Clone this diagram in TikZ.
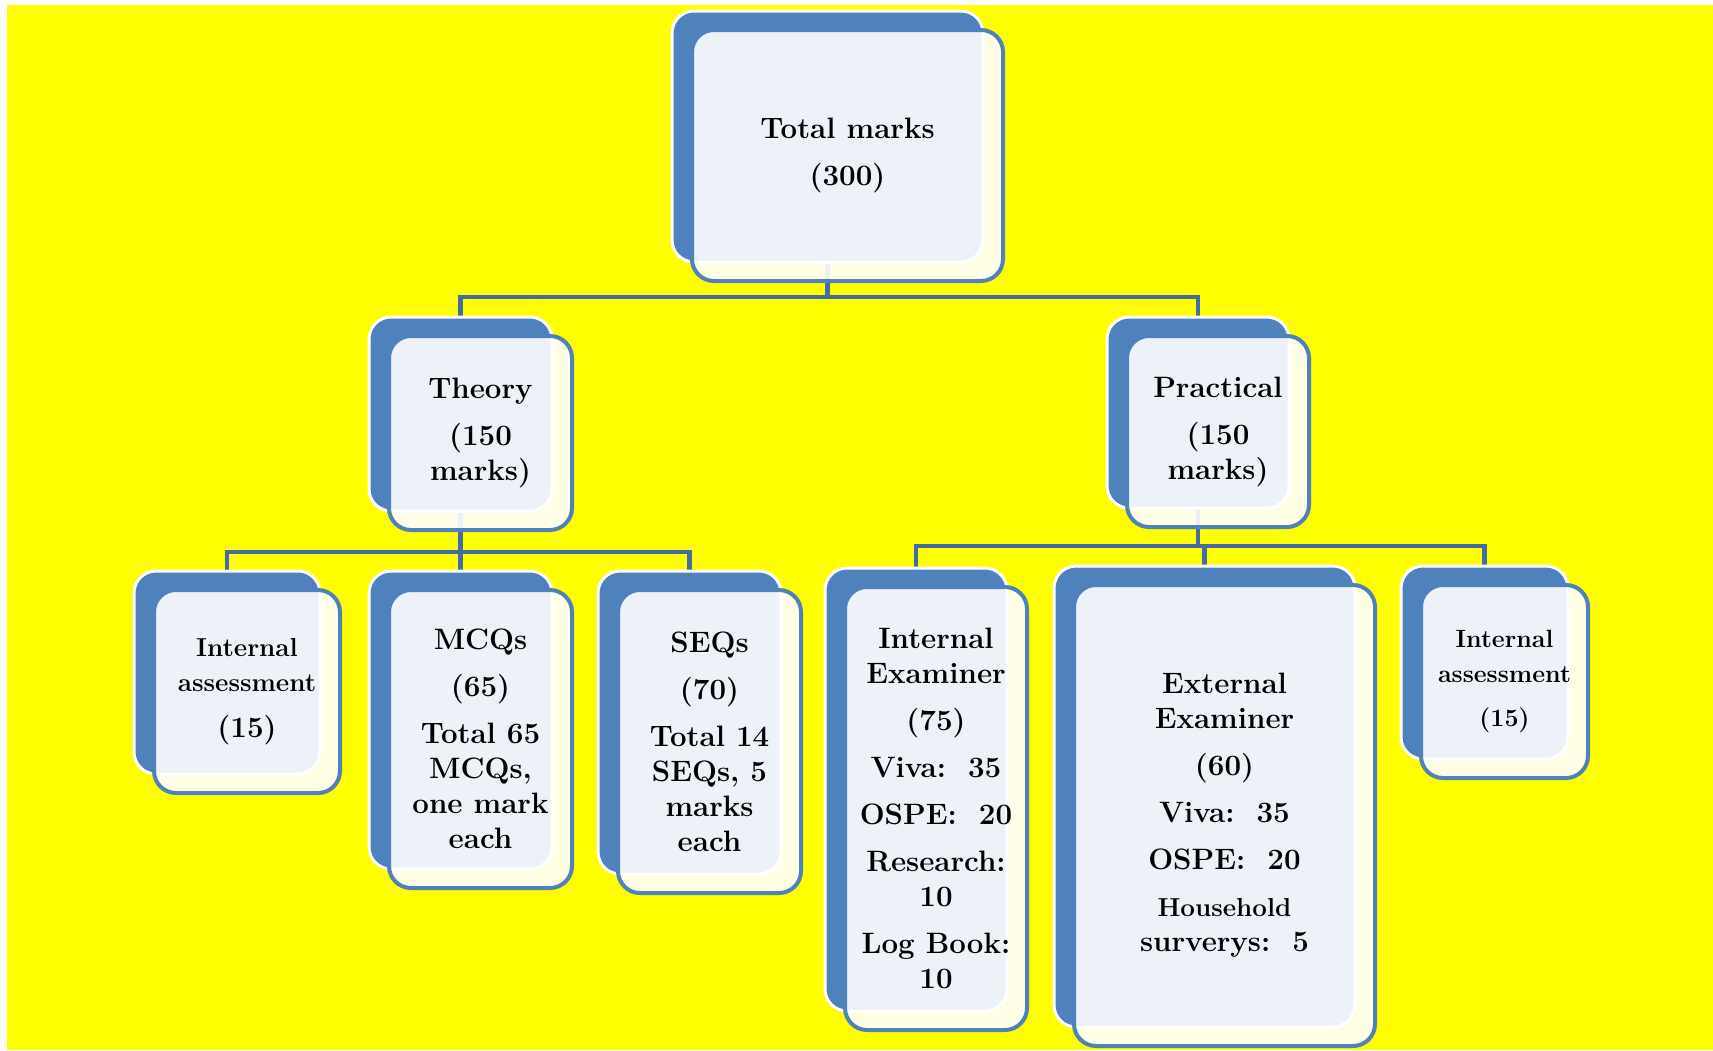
\documentclass[tikz,border=0pt]{standalone}
\usetikzlibrary{backgrounds}

\definecolor{boxblue}{HTML}{4F81BD}
\definecolor{linkblue}{HTML}{436CA2}
\definecolor{bgyellow}{HTML}{FFFF00}

\tikzset{
    backbox/.style={draw=white, line width=3pt, fill=boxblue, rounded corners=22pt},
    frontbox/.style={draw=boxblue, line width=4pt, fill=white, fill opacity=0.9,
        text opacity=1, rounded corners=22pt, align=center, inner sep=0pt,
        font=\fontsize{29.5}{35}\selectfont\bfseries},
    link/.style={draw=linkblue, line width=4.5pt}
}

% back box (#1) and front box (#1-f) with the text
\newcommand{\markbox}[5]{%
    \node[backbox, minimum width=#3pt, minimum height=#4pt] (#1) at (#2) {};
    \node[frontbox, minimum width=#3pt, minimum height=#4pt,
        shift={(20pt,-19pt)}] (#1-f) at (#2) {#5};
}
\newcommand{\smallf}{\fontsize{26}{31}\selectfont}

\begin{document}
\begin{tikzpicture}[x=1pt,y=-1pt]
\useasboundingbox (0,0) rectangle (1713,1050);
\begin{pgfonlayer}{background}
    \fill[white] (0,0) rectangle (1713,1050);
    \fill[bgyellow] (7,5) rectangle (1713,1050);
\end{pgfonlayer}

% top
\markbox{total}{827.5,136.5}{311}{251}{Total marks\\[12pt](300)}

% second row
\markbox{theory}{460.5,414}{183}{194}{Theory\\[12pt](150\\marks)}
\markbox{practical}{1198,412.5}{182}{191}{Practical\\[12pt](150\\marks)}

% third row
\markbox{ia1}{227,672.5}{186}{203}{\smallf Internal\\\smallf assessment\\[11pt](15)}
\markbox{mcq}{460.5,720}{183}{298}{MCQs\\[12pt](65)\\[12pt]Total 65\\MCQs,\\one mark\\each}
\markbox{seq}{689.5,722.5}{183}{303}{SEQs\\[12pt](70)\\[12pt]Total 14\\SEQs, 5\\marks\\each}
\markbox{intex}{916,789.5}{182}{443}{Internal\\Examiner\\[12pt](75)\\[12pt]Viva:\ \ 35\\[12pt]OSPE:\ \ 20\\[12pt]Research:\\10\\[12pt]Log Book:\\10}
\markbox{extex}{1204.5,796.5}{301}{461}{External\\Examiner\\[12pt](60)\\[12pt]Viva:\ \ 35\\[12pt]OSPE:\ \ 20\\[12pt]\smallf Household\\surverys:\ \ 5}
\markbox{ia2}{1484.5,662.5}{167}{193}{\fontsize{25}{29}\selectfont Internal\\\fontsize{25}{29}\selectfont assessment\\[9pt]\fontsize{25}{29}\selectfont (15)}

% connectors
\coordinate (bus1) at (0,297);
\coordinate (bus2) at (0,552);
\coordinate (bus3) at (0,546);
\begin{pgfonlayer}{background}
    \foreach \c in {theory,practical}
    {
        \draw[link] (total.south) -- (total.south |- bus1) -| (\c.north);
    }
    \foreach \c in {ia1,mcq,seq}
    {
        \draw[link] (theory.south) -- (theory.south |- bus2) -| (\c.north);
    }
    \foreach \c in {intex,extex,ia2}
    {
        \draw[link] (practical.south) -- (practical.south |- bus3) -| (\c.north);
    }
\end{pgfonlayer}
\end{tikzpicture}
\end{document}
